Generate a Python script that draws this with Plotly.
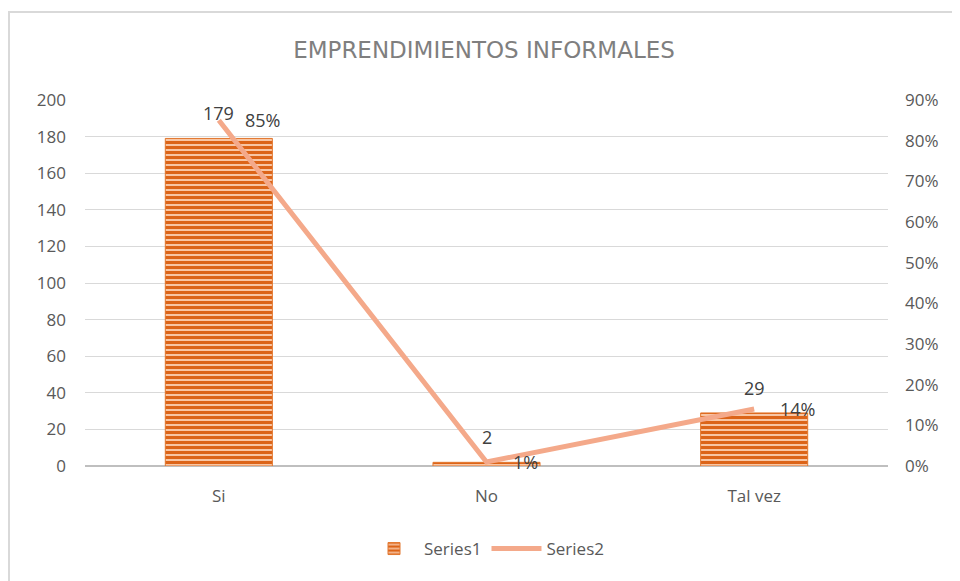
import plotly.graph_objects as go

categories = ["Si", "No", "Tal vez"]
counts = [179, 2, 29]
shares = [0.85, 0.01, 0.14]

# the page body adds 8px around the figure, so the figure is sized to fit inside it
W, H = 952, 573
ml, mr, mt, mb = 77, 72, 92, 115
pw = W - ml - mr
ph = H - mt - mb

font = "Open Sans, Liberation Sans, sans-serif"
grey = "#595959"
label_grey = "#404040"

fig = go.Figure()
fig.add_trace(go.Bar(
    x=categories, y=counts, name="Series1",
    marker=dict(color="#F4B183",
                line=dict(color="#E2772E", width=1),
                pattern=dict(shape="-", fgcolor="#DC6418", bgcolor="#F8C6A4",
                             fgopacity=1, size=5, solidity=0.6)),
    width=0.4,
))
fig.add_trace(go.Scatter(
    x=categories, y=shares, name="Series2", yaxis="y2",
    mode="lines", line=dict(color="#F4A98A", width=5),
    cliponaxis=False,
))

# data labels: counts above the bars, shares to the right of the line points
annotations = []
for c, v in zip(categories, counts):
    annotations.append(dict(x=c, y=v, xref="x", yref="y", text=str(v),
                            showarrow=False, yanchor="bottom", yshift=11,
                            font=dict(size=18, color=label_grey, family=font)))
for c, s in zip(categories, shares):
    annotations.append(dict(x=c, y=s, xref="x", yref="y2", text=f"{round(s*100)}%",
                            showarrow=False, xanchor="left", xshift=24,
                            font=dict(size=18, color=label_grey, family=font)))

# chart frame
fig.add_shape(type="rect", xref="paper", yref="paper",
              x0=(1 - ml) / pw, x1=(990 - ml) / pw,
              y0=(H - mb - 620) / ph, y1=(H - mb - 4) / ph,
              line=dict(color="#D9D9D9", width=2), layer="below")

fig.update_layout(
    width=W, height=H,
    margin=dict(l=ml, r=mr, t=mt, b=mb),
    paper_bgcolor="white", plot_bgcolor="white",
    annotations=annotations,
    title=dict(text="EMPRENDIMIENTOS INFORMALES", x=0.5, xanchor="center",
               y=1 - 42 / H, yanchor="middle",
               font=dict(size=23, color="#7F7F7F", family="DejaVu Sans")),
    font=dict(family=font, color=grey, size=17),
    xaxis=dict(showgrid=False, showline=False, ticks="", ticklabelstandoff=18,
               tickfont=dict(size=17, color=grey)),
    yaxis=dict(range=[0, 200], dtick=20, gridcolor="#D9D9D9", gridwidth=1,
               zeroline=True, zerolinecolor="#BFBFBF", zerolinewidth=2,
               tickfont=dict(size=17, color=grey), ticklabelstandoff=18),
    yaxis2=dict(range=[0, 0.9], dtick=0.1, tickformat=".0%", overlaying="y",
                side="right", showgrid=False, zeroline=False,
                tickfont=dict(size=17, color=grey), ticklabelstandoff=16),
    legend=dict(orientation="h", x=0.5, xanchor="center", y=-83 / ph,
                yanchor="middle", itemwidth=50, font=dict(size=17, color=grey)),
    showlegend=True,
)

fig.write_html("out.html")
